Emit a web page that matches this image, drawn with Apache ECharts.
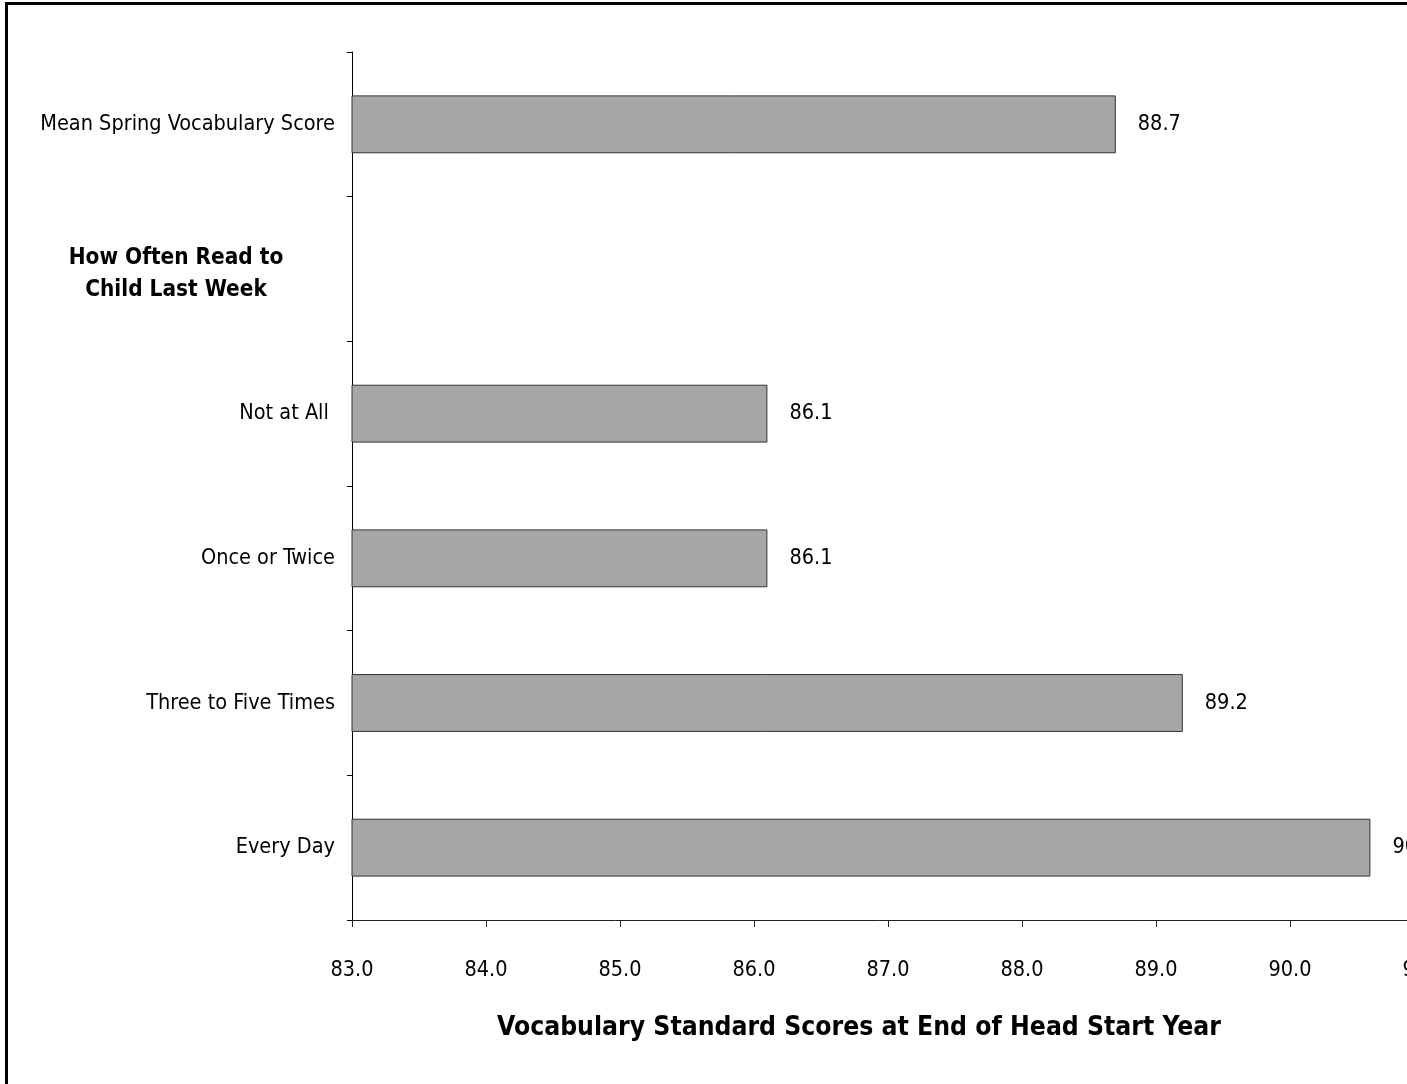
<!DOCTYPE html>
<html>
<head>
<meta charset="utf-8">
<title>Vocabulary Standard Scores by Reading Frequency</title>
<script src="https://cdn.jsdelivr.net/npm/echarts@6/dist/echarts.min.js"></script>
<style>
  html, body { margin: 0; padding: 0; background: #fff; }
  #chart { width: 1407px; height: 1084px; }
</style>
</head>
<body>
<div id="chart"></div>
<script>
// Row labels, top to bottom; the second row is a group heading with no bar
const groupHeading = 'How Often Read to\nChild Last Week';
const categories = [
  'Mean Spring Vocabulary Score',
  groupHeading,
  'Not at All ',
  'Once or Twice',
  'Three to Five Times',
  'Every Day'
];
// Mean vocabulary standard score for each row (null = heading row)
const scores = [88.7, null, 86.1, 86.1, 89.2, 90.6];
// Value axis range and step
const axisMin = 83;
const axisMax = 91;
const axisStep = 1;
const axisTitle = 'Vocabulary Standard Scores at End of Head Start Year';

const FONT = '"DejaVu Sans Condensed", "DejaVu Sans", sans-serif';

const chart = echarts.init(document.getElementById('chart'), null, { renderer: 'canvas' });

const headingStyle = {
  fontFamily: FONT,
  fontWeight: 'bold',
  fontSize: 22.4,
  lineHeight: 32,
  height: 32,
  width: 318,
  align: 'center',
  color: '#000'
};

chart.setOption({
  backgroundColor: '#ffffff',
  animation: false,
  textStyle: { fontFamily: FONT },
  title: {
    text: axisTitle,
    left: 854,
    top: 1010,
    textAlign: 'center',
    textStyle: { fontFamily: FONT, fontSize: 26.3, fontWeight: 'bold', color: '#000' }
  },
  graphic: [{
    type: 'rect',
    shape: { x: 6.5, y: 3.5, width: 3000, height: 3000 },
    style: { fill: 'none', stroke: '#000', lineWidth: 3 },
    silent: true
  }],
  grid: {
    left: 352, top: 52, right: -17, bottom: 164,
    containLabel: false,
    outerBoundsMode: 'none'
  },
  xAxis: {
    type: 'value',
    min: axisMin,
    max: axisMax,
    interval: axisStep,
    splitLine: { show: false },
    axisLine: { show: true, lineStyle: { color: '#222', width: 1 } },
    axisTick: { show: true, length: 7, lineStyle: { color: '#222' } },
    axisLabel: {
      margin: 39,
      fontSize: 21.5,
      color: '#000',
      fontFamily: FONT,
      formatter: v => v.toFixed(1)
    }
  },
  yAxis: {
    type: 'category',
    inverse: true,
    data: categories,
    axisLine: { show: true, lineStyle: { color: '#000', width: 1 } },
    axisTick: { show: true, length: 5, alignWithLabel: false, lineStyle: { color: '#000' } },
    axisLabel: {
      margin: 17,
      fontSize: 21.5,
      color: '#000',
      fontFamily: FONT,
      interval: 0,
      formatter: v => {
        if (v !== groupHeading) return v;
        // a thin spacer line above the heading nudges it a little lower in its row
        return '{gap|}\n' + v.split('\n').map(s => '{h|' + s + '}').join('\n');
      },
      rich: {
        gap: { height: 11, lineHeight: 11, fontSize: 1, width: 318 },
        h: headingStyle
      }
    }
  },
  series: [{
    type: 'bar',
    data: scores,
    barWidth: '40%',
    itemStyle: { color: '#a6a6a6', borderColor: '#333', borderWidth: 1 },
    label: {
      show: true,
      position: 'right',
      distance: 22,
      fontSize: 21.5,
      color: '#000',
      fontFamily: FONT,
      formatter: p => (p.value == null ? '' : Number(p.value).toFixed(1))
    }
  }]
});
</script>
</body>
</html>
